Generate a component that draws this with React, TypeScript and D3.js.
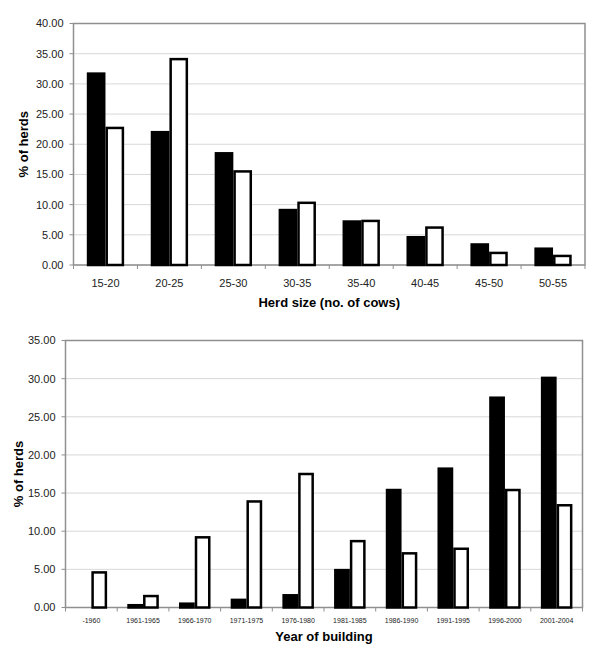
import React from "react";
import * as d3 from "d3";

const herdSizes = ["15-20", "20-25", "25-30", "30-35", "35-40", "40-45", "45-50", "50-55"];
const herdBlack = [31.7, 22.0, 18.5, 9.1, 7.2, 4.6, 3.4, 2.7];
const herdWhite = [22.7, 34.1, 15.5, 10.3, 7.3, 6.2, 2.0, 1.5];
const herdTicks = [0, 5, 10, 15, 20, 25, 30, 35, 40];

const years = ["-1960", "1961-1965", "1966-1970", "1971-1975", "1976-1980", "1981-1985", "1986-1990", "1991-1995", "1996-2000", "2001-2004"];
const yearBlack = [0, 0.3, 0.5, 1.0, 1.6, 4.9, 15.4, 18.2, 27.5, 30.1];
const yearWhite = [4.6, 1.5, 9.2, 13.9, 17.5, 8.7, 7.1, 7.7, 15.4, 13.4];
const yearTicks = [0, 5, 10, 15, 20, 25, 30, 35];

const FONT = "'Liberation Sans', Arial, sans-serif";

type PanelProps = {
  cats: string[];
  black: number[];
  white: number[];
  ticks: number[];
  left: number;
  top: number;
  right: number;
  bottom: number;
  xTitle: string;
  xLabelSize: number;
  xLabelY: number;
  xTitleY: number;
  yTitleX: number;
  barFrac: number;
};

function Panel(p: PanelProps) {
  const x = d3.scaleBand<string>().domain(p.cats).range([p.left, p.right]).padding(0);
  const y = d3.scaleLinear().domain([0, d3.max(p.ticks) as number]).range([p.bottom, p.top]);
  const bw = x.bandwidth();
  const outer = bw * p.barFrac;
  const sw = 2.5;
  const boundaries = p.cats.map((c) => x(c) as number).concat([p.right]);
  return (
    <g>
      {p.ticks.map((t) => (
        <line key={"g" + t} x1={p.left} x2={p.right} y1={y(t)} y2={y(t)} stroke="#d8d8d8" strokeWidth={1} />
      ))}
      <rect x={p.left} y={p.top} width={p.right - p.left} height={p.bottom - p.top} fill="none" stroke="#8f8f8f" strokeWidth={1.5} />
      {p.ticks.map((t) => (
        <g key={"t" + t}>
          <line x1={p.left - 4} x2={p.left} y1={y(t)} y2={y(t)} stroke="#8f8f8f" strokeWidth={1} />
          <text x={p.left - 10} y={y(t)} dy="0.36em" textAnchor="end" fontSize={11} fontFamily={FONT} fill="#222">
            {t.toFixed(2)}
          </text>
        </g>
      ))}
      {boundaries.map((b, i) => (
        <line key={"b" + i} x1={b} x2={b} y1={p.bottom} y2={p.bottom + 4} stroke="#8f8f8f" strokeWidth={1} />
      ))}
      {p.cats.map((c, i) => {
        const cx = (x(c) as number) + bw / 2;
        const vb = p.black[i];
        const vw = p.white[i];
        return (
          <g key={c}>
            {vb > 0 && (
              <rect x={cx - outer + sw / 2} y={y(vb)} width={outer - sw} height={p.bottom - y(vb)} fill="#000" stroke="#000" strokeWidth={sw} />
            )}
            {vw > 0 && (
              <rect x={cx + sw / 2} y={y(vw)} width={outer - sw} height={p.bottom - y(vw)} fill="#fff" stroke="#000" strokeWidth={sw} />
            )}
            <text x={cx} y={p.xLabelY} textAnchor="middle" fontSize={p.xLabelSize} fontFamily={FONT} fill="#222">
              {c}
            </text>
          </g>
        );
      })}
      <text x={(p.left + p.right) / 2} y={p.xTitleY} textAnchor="middle" fontSize={13} fontWeight="bold" fontFamily={FONT} fill="#000">
        {p.xTitle}
      </text>
      <text
        transform={`translate(${p.yTitleX},${(p.top + p.bottom) / 2}) rotate(-90)`}
        textAnchor="middle"
        dy="0.36em"
        fontSize={13}
        fontWeight="bold"
        fontFamily={FONT}
        fill="#000"
      >
        % of herds
      </text>
    </g>
  );
}

export default function App() {
  return (
    <svg width={600} height={670} style={{ position: "absolute", left: 0, top: 0, background: "#fff" }}>
      <rect x={0} y={0} width={600} height={670} fill="#fff" />
      <Panel
        cats={herdSizes}
        black={herdBlack}
        white={herdWhite}
        ticks={herdTicks}
        left={73.5}
        top={23.5}
        right={585}
        bottom={265}
        xTitle="Herd size (no. of cows)"
        xLabelSize={11}
        xLabelY={286.5}
        xTitleY={307}
        yTitleX={23}
        barFrac={0.292}
      />
      <Panel
        cats={years}
        black={yearBlack}
        white={yearWhite}
        ticks={yearTicks}
        left={65.5}
        top={340.5}
        right={582.5}
        bottom={607.5}
        xTitle="Year of building"
        xLabelSize={7}
        xLabelY={622.5}
        xTitleY={641}
        yTitleX={18}
        barFrac={0.305}
      />
    </svg>
  );
}
